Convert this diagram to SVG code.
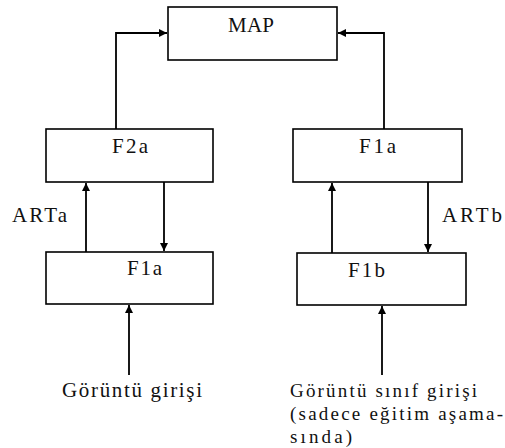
<svg xmlns="http://www.w3.org/2000/svg" width="505" height="448" viewBox="0 0 505 448">
  <defs>
    <marker id="arrow" viewBox="0 0 8 8" refX="8" refY="4" markerWidth="8" markerHeight="8" markerUnits="userSpaceOnUse" orient="auto">
      <path d="M0,0 L8,4 L0,8 Z" fill="#000"/>
    </marker>
    <style>
      .box { fill: #fff; stroke: #000; stroke-width: 1.6; }
      .conn { fill: none; stroke: #000; stroke-width: 1.8; marker-end: url(#arrow); }
    </style>
  </defs>
  <rect width="505" height="448" fill="#fff"/>

  <g font-family="Liberation Serif, Times New Roman, serif" font-size="21" fill="#111">
    <g id="map">
      <rect class="box" x="168" y="7" width="169" height="53"/>
      <text x="228" y="32" textLength="46" lengthAdjust="spacing">MAP</text>
    </g>

    <g id="f2a">
      <rect class="box" x="46" y="129" width="167" height="53"/>
      <text x="112" y="153" textLength="36" lengthAdjust="spacing">F2a</text>
    </g>

    <g id="f1a-left">
      <rect class="box" x="46" y="252" width="167" height="52"/>
      <text x="127" y="275" textLength="35" lengthAdjust="spacing">F1a</text>
    </g>

    <g id="f1a-right">
      <rect class="box" x="293" y="129" width="169" height="53"/>
      <text x="359" y="153" textLength="37" lengthAdjust="spacing">F1a</text>
    </g>

    <g id="f1b">
      <rect class="box" x="297" y="253" width="169" height="52"/>
      <text x="348" y="277" textLength="37" lengthAdjust="spacing">F1b</text>
    </g>

    <g id="connectors">
      <path class="conn" d="M116,129 V33 H167"/>
      <path class="conn" d="M384,129 V33 H338"/>
      <path class="conn" d="M86,252 V183"/>
      <path class="conn" d="M164,182 V251"/>
      <path class="conn" d="M332,253 V183"/>
      <path class="conn" d="M428,182 V252"/>
      <path class="conn" d="M129,375 V305"/>
      <path class="conn" d="M382,375 V306"/>
    </g>

    <g id="labels">
      <text x="12" y="222" textLength="55" lengthAdjust="spacing">ARTa</text>
      <text x="442" y="222" textLength="60" lengthAdjust="spacing">ARTb</text>
      <text x="62" y="397" textLength="140" lengthAdjust="spacing">Görüntü girişi</text>
      <g font-size="19">
        <text x="290" y="397" textLength="187" lengthAdjust="spacing">Görüntü sınıf girişi</text>
        <text x="290" y="420" textLength="213" lengthAdjust="spacing">(sadece eğitim aşama-</text>
        <text x="290" y="443" textLength="62" lengthAdjust="spacing">sında)</text>
      </g>
    </g>
  </g>
</svg>
